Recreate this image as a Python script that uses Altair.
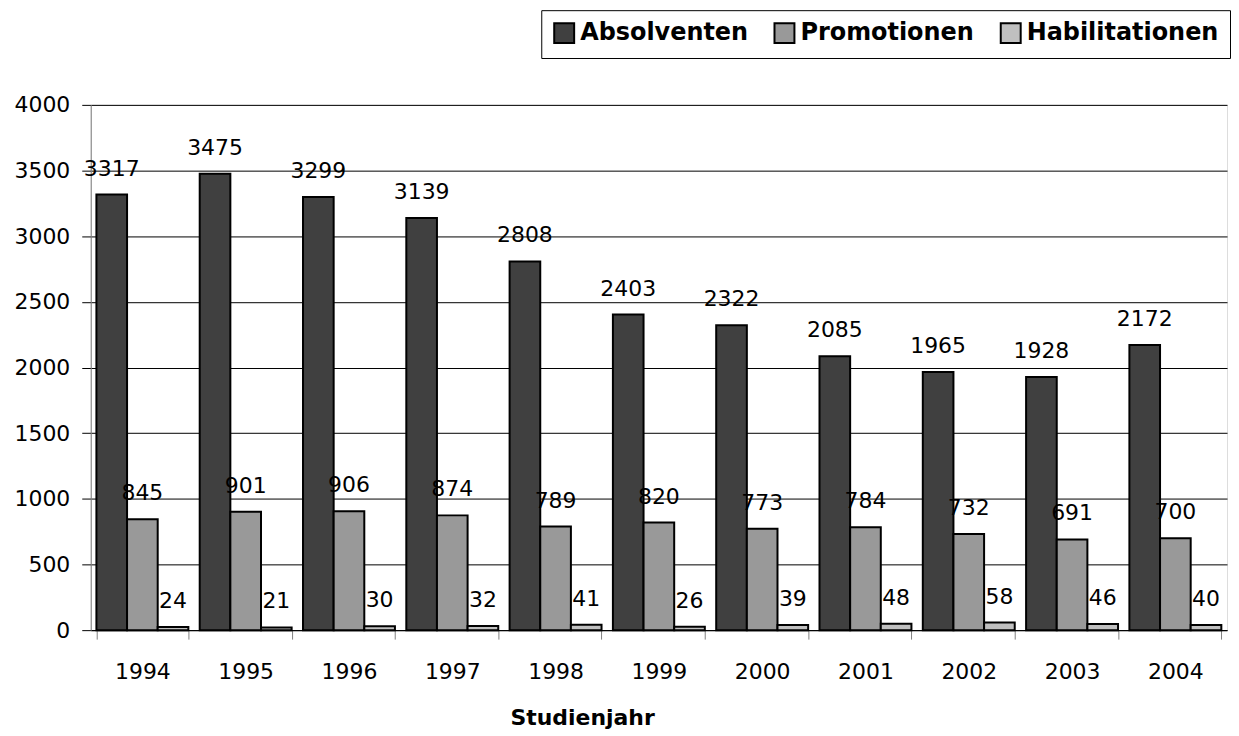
import altair as alt
import pandas as pd

years = ["1994", "1995", "1996", "1997", "1998", "1999", "2000", "2001", "2002", "2003", "2004"]
series = ["Absolventen", "Promotionen", "Habilitationen"]
absolventen = [3317, 3475, 3299, 3139, 2808, 2403, 2322, 2085, 1965, 1928, 2172]
promotionen = [845, 901, 906, 874, 789, 820, 773, 784, 732, 691, 700]
habilitationen = [24, 21, 30, 32, 41, 26, 39, 48, 58, 46, 40]
colors = ["#404040", "#999999", "#c0c0c0"]
y_ticks = [0, 500, 1000, 1500, 2000, 2500, 3000, 3500, 4000]

rows = []
for name, vals in zip(series, [absolventen, promotionen, habilitationen]):
    for yr, v in zip(years, vals):
        rows.append({"year": yr, "series": name, "value": v})
df = pd.DataFrame(rows)

FONT = "DejaVu Sans"

x_enc = alt.X(
    "year:N",
    sort=years,
    scale=alt.Scale(paddingInner=0.11, paddingOuter=0.055),
    axis=alt.Axis(
        title="Studienjahr",
        titleFont=FONT,
        titleFontSize=22,
        titleFontWeight="bold",
        titleColor="black",
        titleX=493,
        titleY=95,
        titleBaseline="alphabetic",
        labelAngle=0,
        labelFont=FONT,
        labelFontSize=22,
        labelColor="black",
        labelPadding=23,
        tickBand="extent",
        tickSize=9,
        tickColor="#808080",
        domainColor="black",
        domainWidth=1,
        grid=False,
    ),
)
xoff = alt.XOffset("series:N", sort=series, scale=alt.Scale(paddingInner=0, paddingOuter=0))
y_enc = alt.Y(
    "value:Q",
    scale=alt.Scale(domain=[0, 4000], nice=False),
    axis=alt.Axis(
        title=None,
        values=y_ticks,
        format="d",
        labelFont=FONT,
        labelFontSize=22,
        labelColor="black",
        labelPadding=12,
        tickSize=9,
        tickColor="black",
        domainColor="#808080",
        grid=True,
        gridColor="black",
        gridWidth=1,
    ),
)

base = alt.Chart(df)

bars = base.mark_bar(stroke="black", strokeWidth=2).encode(
    x=x_enc,
    xOffset=xoff,
    y=y_enc,
    color=alt.Color(
        "series:N",
        sort=series,
        scale=alt.Scale(domain=series, range=colors),
        legend=alt.Legend(
            title=None,
            orient="none",
            legendX=452,
            legendY=-95,
            direction="horizontal",
            symbolType="square",
            symbolSize=400,
            symbolStrokeColor="black",
            symbolStrokeWidth=2,
            labelFont=FONT,
            labelFontSize=24,
            labelFontWeight="bold",
            labelColor="black",
            labelLimit=500,
            labelOffset=4,
            columnPadding=22,
            padding=11,
            strokeColor="black",
            fillColor="white",
        ),
    ),
)

labels = base.mark_text(
    font=FONT, fontSize=22, color="black", dy=-19, baseline="alphabetic"
).encode(
    x=alt.X("year:N", sort=years),
    xOffset=alt.XOffset("series:N", sort=series),
    y=alt.Y("value:Q"),
    text=alt.Text("value:Q"),
)

chart = (
    alt.layer(bars, labels)
    .properties(width=1140, height=527, padding={"left": 6, "top": 0, "right": 0, "bottom": 0})
    .configure_view(strokeWidth=0)
    .configure(background="white")
)

chart.save("out.html", embed_options={"renderer": "svg", "actions": False})
